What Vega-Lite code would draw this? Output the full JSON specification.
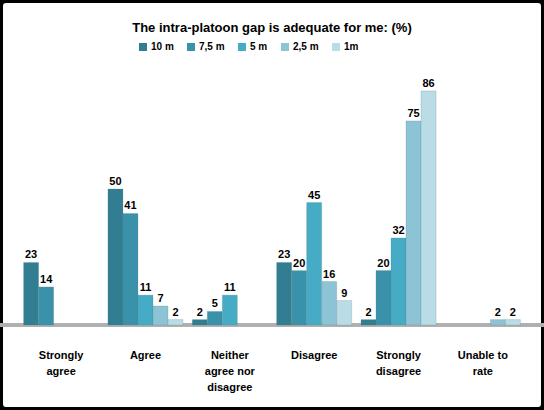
{
  "$schema": "https://vega.github.io/schema/vega-lite/v6.json",
  "width": 544,
  "height": 410,
  "autosize": {"type": "none"},
  "padding": 0,
  "background": "white",
  "config": {
    "font": "Liberation Sans",
    "view": {"stroke": "black", "strokeWidth": 6, "cornerRadius": 6}
  },
  "title": {
    "text": "The intra-platoon gap is adequate for me: (%)",
    "fontSize": 13,
    "fontWeight": "bold",
    "color": "black",
    "anchor": "middle",
    "offset": -35
  },
  "data": {
    "values": [
      {"category": "Strongly agree", "gap": "10 m", "value": 23},
      {"category": "Strongly agree", "gap": "7,5 m", "value": 14},
      {"category": "Agree", "gap": "10 m", "value": 50},
      {"category": "Agree", "gap": "7,5 m", "value": 41},
      {"category": "Agree", "gap": "5 m", "value": 11},
      {"category": "Agree", "gap": "2,5 m", "value": 7},
      {"category": "Agree", "gap": "1m", "value": 2},
      {"category": "Neither agree nor disagree", "gap": "10 m", "value": 2},
      {"category": "Neither agree nor disagree", "gap": "7,5 m", "value": 5},
      {"category": "Neither agree nor disagree", "gap": "5 m", "value": 11},
      {"category": "Disagree", "gap": "10 m", "value": 23},
      {"category": "Disagree", "gap": "7,5 m", "value": 20},
      {"category": "Disagree", "gap": "5 m", "value": 45},
      {"category": "Disagree", "gap": "2,5 m", "value": 16},
      {"category": "Disagree", "gap": "1m", "value": 9},
      {"category": "Strongly disagree", "gap": "10 m", "value": 2},
      {"category": "Strongly disagree", "gap": "7,5 m", "value": 20},
      {"category": "Strongly disagree", "gap": "5 m", "value": 32},
      {"category": "Strongly disagree", "gap": "2,5 m", "value": 75},
      {"category": "Strongly disagree", "gap": "1m", "value": 86},
      {"category": "Unable to rate", "gap": "2,5 m", "value": 2},
      {"category": "Unable to rate", "gap": "1m", "value": 2}
    ]
  },
  "encoding": {
    "x": {
      "field": "category",
      "type": "nominal",
      "sort": ["Strongly agree", "Agree", "Neither agree nor disagree", "Disagree", "Strongly disagree", "Unable to rate"],
      "scale": {"paddingInner": 0.11, "paddingOuter": 0.28},
      "axis": {
        "orient": "bottom",
        "offset": -61,
        "title": null,
        "domain": false,
        "ticks": false,
        "labelAngle": 0,
        "labelPadding": 0,
        "labelFontSize": 11,
        "labelFontWeight": "bold",
        "labelColor": "black",
        "labelLineHeight": 16,
        "labelExpr": "datum.value == 'Strongly agree' ? ['Strongly', 'agree'] : datum.value == 'Neither agree nor disagree' ? ['Neither', 'agree nor', 'disagree'] : datum.value == 'Strongly disagree' ? ['Strongly', 'disagree'] : datum.value == 'Unable to rate' ? ['Unable to', 'rate'] : datum.value"
      }
    },
    "xOffset": {
      "field": "gap",
      "type": "nominal",
      "sort": ["10 m", "7,5 m", "5 m", "2,5 m", "1m"],
      "scale": {"domain": ["10 m", "7,5 m", "5 m", "2,5 m", "1m"], "paddingInner": 0, "paddingOuter": 0}
    },
    "y": {
      "field": "value",
      "type": "quantitative",
      "scale": {"domain": [-31.2, 119.4], "nice": false, "zero": false},
      "axis": null
    }
  },
  "layer": [
    {
      "mark": {"type": "rule", "stroke": "#b0b0b0", "strokeWidth": 2.5},
      "encoding": {
        "x": null,
        "xOffset": null,
        "y": {"datum": 0, "type": "quantitative"}
      }
    },
    {
      "mark": {"type": "bar", "stroke": "#5a7f8a", "strokeWidth": 0.4, "strokeOpacity": 0.6},
      "encoding": {
        "y2": {"datum": 0},
        "color": {
          "field": "gap",
          "type": "nominal",
          "sort": ["10 m", "7,5 m", "5 m", "2,5 m", "1m"],
          "scale": {
            "domain": ["10 m", "7,5 m", "5 m", "2,5 m", "1m"],
            "range": ["#317d91", "#3a92aa", "#46acc6", "#8cc4d6", "#b9dce6"]
          },
          "legend": {
            "orient": "none",
            "legendX": 138,
            "legendY": 42,
            "direction": "horizontal",
            "title": null,
            "symbolType": "square",
            "symbolSize": 64,
            "symbolStrokeWidth": 0,
            "labelFontSize": 10,
            "labelFontWeight": "bold",
            "labelColor": "black",
            "columnPadding": 12,
            "labelOffset": 3
          }
        }
      }
    },
    {
      "mark": {"type": "text", "baseline": "bottom", "dy": -2, "fontSize": 11, "fontWeight": "bold", "color": "black"},
      "encoding": {
        "text": {"field": "value", "type": "quantitative"}
      }
    }
  ]
}
